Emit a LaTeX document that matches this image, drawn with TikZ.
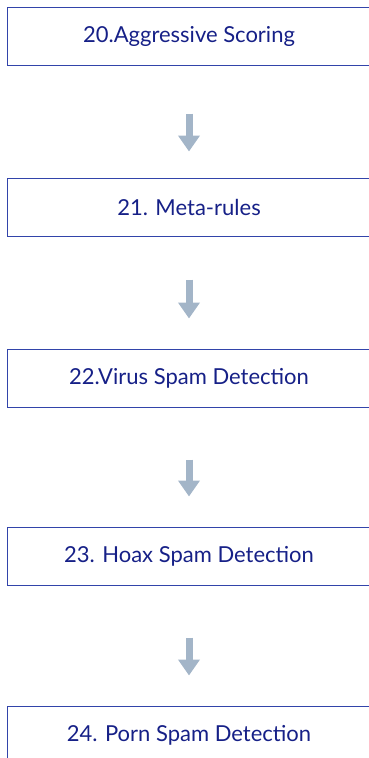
\documentclass[tikz,border=0pt]{standalone}
\usepackage{fontspec}
\setmainfont{Lato}
\usetikzlibrary{positioning, arrows.meta}

\definecolor{boxline}{RGB}{50,68,170}
\definecolor{boxtext}{RGB}{22,32,135}
\definecolor{arrowfill}{RGB}{163,181,200}

\begin{document}
\begin{tikzpicture}[x=1pt, y=-1pt,
    stage/.style={draw=boxline, line width=1pt, minimum width=364pt,
      minimum height=58pt, inner sep=0pt, text=boxtext,
      font=\fontsize{22}{26}\selectfont},
    flow/.style={draw=arrowfill, line width=7pt,
      -{Triangle[width=21pt,length=16pt]}}]
  \useasboundingbox (0,0) rectangle (368,758);

  % the five stages
  \node[stage] (s20) at (189,36) {20.Aggressive Scoring};
  \node[stage, below=112pt of s20] (s21) {21. Meta-rules};
  \node[stage, below=112pt of s21] (s22) {22.Virus Spam Detection};
  \node[stage, below=119pt of s22] (s23) {23. Hoax Spam Detection};
  \node[stage, below=120pt of s23] (s24) {24. Porn Spam Detection};

  % arrows between them
  \begin{scope}[flow]
    \draw[shorten <=48pt, shorten >=26pt] (s20.south) -- (s21.north);
    \draw[shorten <=43pt, shorten >=30pt] (s21.south) -- (s22.north);
    \draw[shorten <=52pt, shorten >=30pt] (s22.south) -- (s23.north);
    \draw[shorten <=52pt, shorten >=30pt] (s23.south) -- (s24.north);
  \end{scope}
\end{tikzpicture}
\end{document}
